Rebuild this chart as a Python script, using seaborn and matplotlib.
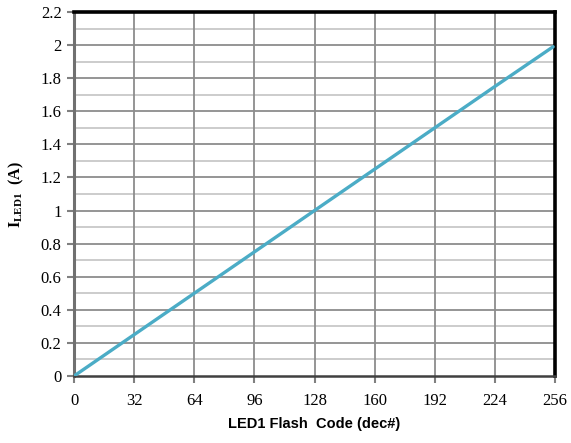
import numpy as np
import pandas as pd
import matplotlib
matplotlib.use("Agg")
import matplotlib.pyplot as plt
import seaborn as sns

# flash code vs LED1 current
flash_code = [0, 32, 64, 96, 128, 160, 192, 224, 255]
i_led1 = [0.0, 0.25, 0.5, 0.75, 1.0, 1.25, 1.5, 1.75, 1.99]
x_ticks = [0, 32, 64, 96, 128, 160, 192, 224, 256]
y_ticks = [0, 0.2, 0.4, 0.6, 0.8, 1, 1.2, 1.4, 1.6, 1.8, 2, 2.2]
y_minor = [0.1, 0.3, 0.5, 0.7, 0.9, 1.1, 1.3, 1.5, 1.7, 1.9, 2.1]

df = pd.DataFrame({"code": flash_code, "current": i_led1})

sns.set_style("ticks")
plt.rcParams['font.family'] = ['Liberation Serif', 'DejaVu Serif']

fig = plt.figure(figsize=(5.71, 4.43), dpi=100)
ax = fig.add_axes([0.1296, 0.1512, 0.8424, 0.8217])

# grid
for y in y_minor:
    ax.axhline(y, color='#c8c8c8', lw=1.3, zorder=1)
for y in y_ticks[1:-1]:
    ax.axhline(y, color='#8c8c8c', lw=1.3, zorder=1)
for x in x_ticks[1:-1]:
    ax.axvline(x, color='#8c8c8c', lw=1.3, zorder=1)

sns.lineplot(data=df, x="code", y="current", color='#4BACC6', lw=2.4, ax=ax, zorder=3)

ax.set_xlim(0, 256)
ax.set_ylim(0, 2.2)
ax.set_xticks(x_ticks)
ax.set_yticks(y_ticks)
ax.set_yticklabels(['0', '0.2', '0.4', '0.6', '0.8', '1', '1.2', '1.4', '1.6', '1.8', '2', '2.2'])
ax.tick_params(axis='both', direction='out', length=5, width=1.5, color='#808080',
               labelsize=12, labelcolor='black', bottom=True, left=True, pad=4)
ax.tick_params(axis='x', pad=7)

ax.spines['left'].set_color('#707070')
ax.spines['left'].set_linewidth(2.2)
ax.spines['bottom'].set_color('#404040')
ax.spines['bottom'].set_linewidth(1.8)
ax.spines['top'].set_visible(True)
ax.spines['right'].set_visible(True)
ax.spines['top'].set_color('black')
ax.spines['top'].set_linewidth(2.6)
ax.spines['right'].set_color('black')
ax.spines['right'].set_linewidth(2.6)

ax.set_xlabel('LED1 Flash  Code (dec#)', fontfamily='Liberation Sans', fontweight='bold',
              fontsize=10.5, color='black', labelpad=6)
ax.set_ylabel('')
fig.text(0.028, 0.56, r'I$_{\mathregular{LED1}}$  (A)', rotation=90, fontweight='bold',
         fontsize=11.5, color='black', ha='center', va='center')

fig.savefig('out.png', dpi=100)
